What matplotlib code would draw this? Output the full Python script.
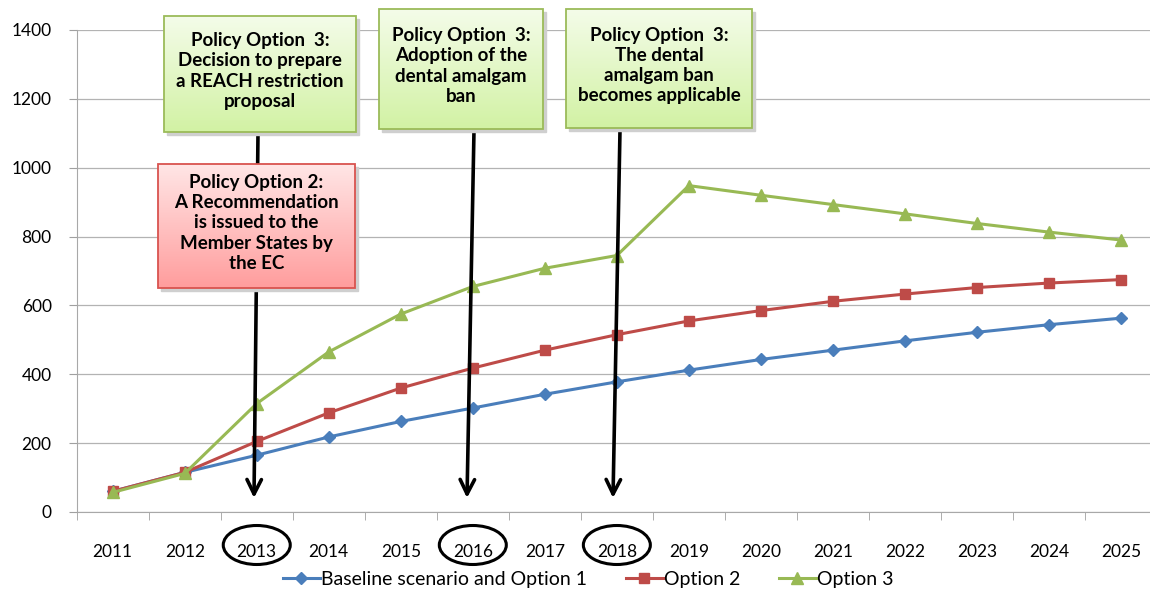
import matplotlib.pyplot as plt
import numpy as np
from matplotlib.patches import Rectangle, Ellipse

plt.rcParams['font.family'] = ['Lato', 'DejaVu Sans']

# data
years = ['2011', '2012', '2013', '2014', '2015', '2016', '2017', '2018',
         '2019', '2020', '2021', '2022', '2023', '2024', '2025']
baseline = [60, 115, 165, 218, 263, 302, 342, 378, 412, 443, 470, 497, 522, 544, 563]
option2 = [60, 115, 205, 288, 360, 418, 470, 515, 555, 585, 612, 633, 652, 665, 675]
option3 = [57, 112, 315, 465, 575, 655, 708, 745, 948, 920, 893, 866, 838, 813, 790]
labels = ['Baseline scenario and Option 1', 'Option 2', 'Option 3']

# annotation boxes: text, (left, top, right, bottom) in pixels
green_boxes = [
    ("Policy Option  3:\nDecision to prepare\na REACH restriction\nproposal", (164, 16, 356, 132)),
    ("Policy Option  3:\nAdoption of the\ndental amalgam\nban", (379, 9, 543, 129)),
    ("Policy Option  3:\nThe dental\namalgam ban\nbecomes applicable", (566, 9, 752, 128)),
]
red_box = ("Policy Option 2:\nA Recommendation\nis issued to the\nMember States by\nthe EC", (158, 164, 355, 288))
circled = [2, 5, 7]

W, H = 1150, 595
fig = plt.figure(figsize=(W / 100, H / 100), dpi=100)
ax = fig.add_axes([76.7 / W, 1 - 512 / H, (1157 - 76.7) / W, (512 - 30) / H])

x = np.arange(len(years))
ax.plot(x, baseline, color='#4a7ebb', lw=2.2, marker='D', ms=6, label=labels[0], zorder=3)
ax.plot(x, option2, color='#be4b48', lw=2.2, marker='s', ms=7.5, label=labels[1], zorder=3)
ax.plot(x, option3, color='#98b954', lw=2.2, marker='^', ms=8.5, label=labels[2], zorder=3)

ax.set_xlim(-0.5, len(years) - 0.5)
ax.set_ylim(0, 1400)
ax.set_yticks(np.arange(0, 1401, 200))
ax.set_xticks(x)
ax.set_xticklabels(years)
ax.set_xticks(np.arange(-0.5, len(years), 1), minor=True)
ax.tick_params(axis='x', which='major', length=0, pad=23, labelsize=12.5)
ax.tick_params(axis='x', which='minor', length=6, color='#a0a0a0', direction='out')
ax.tick_params(axis='y', length=6, color='#a0a0a0', pad=12, labelsize=12.5)
ax.grid(axis='y', color='#b3b3b3', lw=0.9)
ax.set_axisbelow(True)
for s in ['top', 'right']:
    ax.spines[s].set_visible(False)
for s in ['left', 'bottom']:
    ax.spines[s].set_color('#a8a8a8')

fig.legend(loc='center', bbox_to_anchor=(588 / W, 1 - 579 / H), ncol=3, frameon=False,
           fontsize=14, handlelength=1.9, handletextpad=0.05, columnspacing=2.0)

# overlay in pixel coordinates for the call-outs
ov = fig.add_axes([0, 0, 1, 1], zorder=5)
ov.set_xlim(0, W)
ov.set_ylim(H, 0)
ov.axis('off')
ov.patch.set_alpha(0)


def draw_box(text, box, top_col, bot_col, edge, z):
    l, t, r, b = box
    ov.add_patch(Rectangle((l + 3, t + 3), r - l, b - t, color='#cfcfcf', zorder=z - 0.2))
    grad = np.linspace(0, 1, 100)[:, None, None]
    c1 = np.array(plt.matplotlib.colors.to_rgb(top_col))
    c2 = np.array(plt.matplotlib.colors.to_rgb(bot_col))
    img = c1 * (1 - grad) + c2 * grad
    ov.imshow(img, extent=(l, r, b, t), aspect='auto', zorder=z - 0.1)
    ov.add_patch(Rectangle((l, t), r - l, b - t, fill=False, edgecolor=edge, lw=1.3, zorder=z))
    ov.text((l + r) / 2, (t + b) / 2 - 3, text, ha='center', va='center', fontsize=13.5,
            fontweight='bold', linespacing=1.22, zorder=z + 0.1)


# arrows from the boxes down to the years
arrow_starts = [(258, 133), (474, 130), (620, 130)]
arrow_tips = [(254, 498), (467, 498), (613, 498)]
for (x0, y0), (x1, y1) in zip(arrow_starts, arrow_tips):
    ov.annotate('', xy=(x1, y1), xytext=(x0, y0),
                arrowprops=dict(arrowstyle='->', lw=2.6, color='black', mutation_scale=26,
                                shrinkA=0, shrinkB=0), zorder=6)

for text, box in green_boxes:
    draw_box(text, box, '#f4fce9', '#d2f2a4', '#9bbb59', 8)
draw_box(red_box[0], red_box[1], '#ffe6e6', '#ff9d9d', '#d9534f', 8)

# circles around key years
for i in circled:
    cx = 76.7 + (i + 0.5) * (1157 - 76.7) / len(years)
    ov.add_patch(Ellipse((cx, 545), 67, 39, fill=False, edgecolor='black', lw=2.2, zorder=7))

fig.savefig('out.png', dpi=100)
